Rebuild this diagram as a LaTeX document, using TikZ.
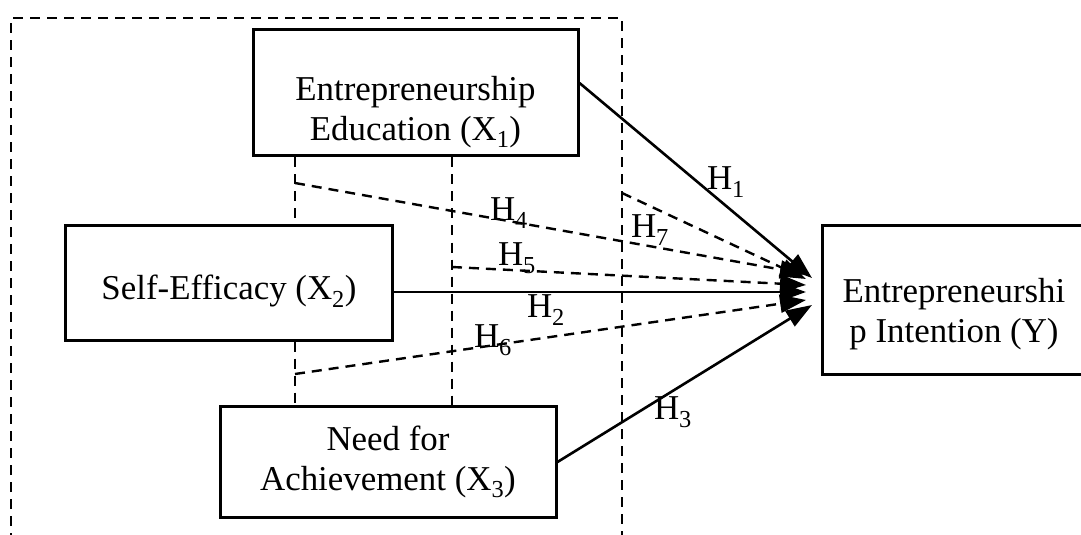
\documentclass[tikz,border=0pt]{standalone}
\usepackage{fontspec}
\setmainfont{Liberation Serif}
\usetikzlibrary{arrows.meta,calc,positioning}

\tikzset{
  varbox/.style={draw, line width=3bp, inner sep=0pt},
  boxtext/.style={align=center, inner sep=0pt, font=\fontsize{35}{40}\selectfont},
  hyp/.style={font=\fontsize{35}{40}\selectfont, inner sep=0pt},
  dashline/.style={line width=2.4bp, dash pattern=on 10bp off 7bp},
  effect/.style={line width=2.6bp, -{Triangle[length=26bp,width=18bp]}},
  dasheffect/.style={dashline, -{Triangle[length=26bp,width=18bp]}}
}

\begin{document}
\begin{tikzpicture}[x=1bp,y=-1bp]
\useasboundingbox (0,0) rectangle (1081,535);

% boxes, text set a little below the middle
\node[varbox, minimum width=325bp, minimum height=126bp,
  label={[boxtext, yshift=-19bp]center:{Entrepreneurship\\Education (X\textsubscript{1})}}]
  (x1) at (415.5,93) {};
\node[varbox, minimum width=326bp, minimum height=114bp,
  label={[boxtext, yshift=-8bp]center:{Self-Efficacy (X\textsubscript{2})}}]
  (x2) at (229,283) {};
\node[varbox, minimum width=336bp, minimum height=110bp,
  label={[boxtext]center:{Need for\\Achievement (X\textsubscript{3})}}]
  (x3) at (388,462) {};
\node[varbox, minimum width=266bp, minimum height=148bp,
  label={[boxtext, xshift=-1bp, yshift=-14bp]center:{Entrepreneurshi\\p Intention (Y)}}]
  (y) at (955,300) {};

% moderating frame, open at the bottom
\draw[dashline] (11,560) -- (11,18) -- (622,18) -- (622,560);

% joins between the independent variables
\coordinate (a4) at (295,183);
\coordinate (a5) at (452,267);
\coordinate (a6) at (295,374);
\coordinate (a7) at (622,193);
\draw[dashline] (x1.south -| a4) -- (x2.north -| a4);
\draw[dashline] (x2.south -| a6) -- (x3.north -| a6);
\draw[dashline] (x1.south -| a5) -- (x3.north -| a5);

% arrow tips at the dependent variable
\coordinate (t1) at (812,278);
\coordinate (t7) at (806,279);
\coordinate (t4) at (806,274);
\coordinate (t5) at (806,285);
\coordinate (t2) at (806,292);
\coordinate (t6) at (806,300);
\coordinate (t3) at (812,305);

\draw[effect] ($(x1.east)+(0,-10)$) -- (t1);
\draw[effect] (x2.east |- t2) -- (t2);
\draw[effect] (x3.east) -- (t3);
\draw[dasheffect] (a4) -- (t4);
\draw[dasheffect] (a5) -- (t5);
\draw[dasheffect] (a6) -- (t6);
\draw[dasheffect] (a7) -- (t7);

% hypothesis labels
\node[hyp] (h1) at (726,182) {H\textsubscript{1}};
\node[hyp] (h2) at (546,310) {H\textsubscript{2}};
\node[hyp] (h3) at (673,412) {H\textsubscript{3}};
\node[hyp] (h4) at (509,213) {H\textsubscript{4}};
\node[hyp] (h5) at (517,258) {H\textsubscript{5}};
\node[hyp] (h6) at (493,340) {H\textsubscript{6}};
\node[hyp] (h7) at (650,230) {H\textsubscript{7}};
\end{tikzpicture}
\end{document}
